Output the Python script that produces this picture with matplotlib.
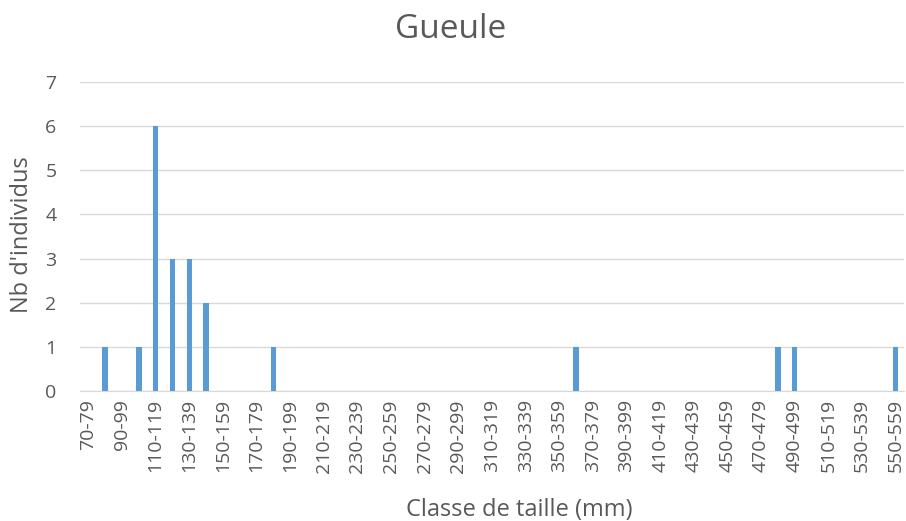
import matplotlib
matplotlib.use('Agg')
import matplotlib.pyplot as plt
import numpy as np

# classes de taille de 70-79 a 550-559
classes = ['%d-%d' % (b, b + 9) for b in range(70, 560, 10)]
effectifs = {'80-89': 1, '100-109': 1, '110-119': 6, '120-129': 3,
             '130-139': 3, '140-149': 2, '180-189': 1, '360-369': 1,
             '480-489': 1, '490-499': 1, '550-559': 1}
counts = [effectifs.get(c, 0) for c in classes]

text_color = '#595959'
plt.rcParams['font.family'] = ['Open Sans', 'DejaVu Sans']

fig = plt.figure(figsize=(9.06, 5.21), dpi=100)
ax = fig.add_axes([0.0883, 0.2495, 0.9095, 0.5931])

x = np.arange(len(classes))
ax.bar(x, counts, width=0.33, color='#5B9BD5', zorder=3)

ax.set_xlim(-0.5, len(classes) - 0.5)
ax.set_ylim(0, 7)
ax.set_yticks(range(0, 8))
ax.set_xticks(x[::2])
ax.set_xticklabels(classes[::2], rotation=90)
ax.tick_params(axis='both', length=0, colors=text_color, labelsize=14)
ax.tick_params(axis='y', pad=17)
ax.tick_params(axis='x', pad=6)
ax.yaxis.grid(True, color='#D9D9D9', linewidth=1, zorder=0)

for s in ['top', 'right', 'left']:
    ax.spines[s].set_visible(False)
ax.spines['bottom'].set_color('#D9D9D9')

fig.text(0.497, 1 - 30 / 521, 'Gueule', fontsize=24, color=text_color,
         ha='center', va='center')
fig.text(0.573, 1 - 510 / 521, 'Classe de taille (mm)', fontsize=17,
         color=text_color, ha='center', va='center')
fig.text(22 / 906, 1 - 235 / 521, "Nb d'individus", fontsize=17,
         color=text_color, ha='center', va='center', rotation=90)

fig.savefig('out.png', dpi=100)
